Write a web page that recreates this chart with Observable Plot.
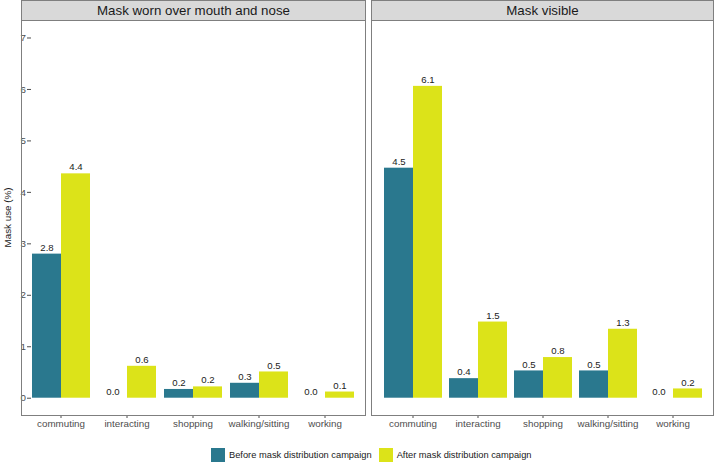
<!DOCTYPE html>
<html>
<head>
<meta charset="utf-8">
<script src="https://cdn.jsdelivr.net/npm/d3@7"></script>
<script src="https://cdn.jsdelivr.net/npm/@observablehq/plot@0.6"></script>
<style>
  html, body { margin: 0; padding: 0; background: #fff; }
  body { font-family: "Liberation Sans", Arial, sans-serif; }
  #root { position: relative; width: 716px; height: 463px; overflow: hidden; background: #fff; }
  .abs { position: absolute; }
  .strip { background: #D9D9D9; border: 1px solid #7F7F7F; box-sizing: border-box; color: #1A1A1A;
           font-size: 13.3px; display: flex; align-items: center; justify-content: center; }
  .frame { border: 1px solid #7F7F7F; box-sizing: border-box; pointer-events: none; }
  .ylab { font-size: 9.8px; color: #1A1A1A; transform: rotate(-90deg); transform-origin: center; white-space: nowrap; }
  .legend { display: flex; align-items: center; font-size: 9.3px; color: #1A1A1A; }
  .sw { width: 14px; height: 14px; margin-right: 4px; }
  .item { display: flex; align-items: center; margin-right: 7px; }
</style>
</head>
<body>
<div id="root"></div>
<script>
const panels = ["Mask worn over mouth and nose", "Mask visible"];
const categories = ["commuting", "interacting", "shopping", "walking/sitting", "working"];
const groups = ["Before mask distribution campaign", "After mask distribution campaign"];
const wornBefore = [2.80, 0.00, 0.17, 0.29, 0.00];
const wornAfter = [4.36, 0.62, 0.22, 0.51, 0.12];
const visibleBefore = [4.47, 0.38, 0.53, 0.53, 0.00];
const visibleAfter = [6.06, 1.48, 0.79, 1.34, 0.18];
const yTicks = [0, 1, 2, 3, 4, 5, 6, 7];
const colors = ["#2A788E", "#DCE319"];
const yLabel = "Mask use (%)";

const series = [[wornBefore, wornAfter], [visibleBefore, visibleAfter]];

const root = document.getElementById("root");

// panel geometry (page pixels)
const panelTop = 20, panelBottom = 415;
const panelBoxes = [{left: 21, right: 365}, {left: 371, right: 713}];
const yDomain = [-0.336, 7.34];

function makePanel(pi) {
  const data = [];
  categories.forEach((c, ci) => {
    groups.forEach((g, gi) => {
      data.push({category: c, group: g, value: series[pi][gi][ci]});
    });
  });
  const box = panelBoxes[pi];
  const showY = pi === 0;
  const mLeft = showY ? box.left : 0;
  const svgLeft = showY ? 0 : box.left;
  const width = box.right - svgLeft;
  const plot = Plot.plot({
    width: width,
    height: (panelBottom - panelTop) + 28,
    marginLeft: mLeft,
    marginRight: 0,
    marginTop: 0,
    marginBottom: 28,
    style: {fontFamily: "'Liberation Sans', Arial, sans-serif", fontSize: "9.8px", color: "#4D4D4D", background: "transparent", overflow: "visible"},
    fx: {domain: categories, paddingInner: 0.1, paddingOuter: 0.15, axis: "bottom", label: null, tickSize: 3, tickPadding: 2},
    x: {domain: groups, padding: 0, axis: null},
    y: {domain: yDomain, ticks: yTicks, axis: showY ? "left" : null, label: null, tickSize: 4, tickPadding: 1.5, tickFormat: d3.format("d")},
    color: {domain: groups, range: colors},
    facet: {data: data, x: "category"},
    marks: [
      Plot.barY(data, {x: "group", y1: 0, y2: "value", fill: "group"}),
      Plot.text(data, {x: "group", y: "value", text: d => d.value.toFixed(1), dy: -6.5, fill: "#222", fontSize: 9.6})
    ]
  });
  plot.style.position = "absolute";
  plot.style.left = svgLeft + "px";
  plot.style.top = panelTop + "px";
  root.appendChild(plot);

  const frame = document.createElement("div");
  frame.className = "abs frame";
  frame.style.left = box.left + "px";
  frame.style.top = panelTop + "px";
  frame.style.width = (box.right - box.left + 1) + "px";
  frame.style.height = (panelBottom - panelTop + 1) + "px";
  root.appendChild(frame);

  const strip = document.createElement("div");
  strip.className = "abs strip";
  strip.style.left = box.left + "px";
  strip.style.top = "0px";
  strip.style.width = (box.right - box.left + 1) + "px";
  strip.style.height = (panelTop + 1) + "px";
  strip.textContent = panels[pi];
  root.appendChild(strip);
}

makePanel(0);
makePanel(1);

const yl = document.createElement("div");
yl.className = "abs ylab";
yl.textContent = yLabel;
root.appendChild(yl);
yl.style.left = "0px";
yl.style.top = "0px";
const r = yl.getBoundingClientRect();
yl.style.left = (8 - r.width / 2 - (r.left)) + "px";
yl.style.top = (217.5 - r.height / 2 - (r.top)) + "px";

const legend = document.createElement("div");
legend.className = "abs legend";
legend.style.left = "211px";
legend.style.top = "448px";
groups.forEach((g, i) => {
  const item = document.createElement("div");
  item.className = "item";
  const sw = document.createElement("div");
  sw.className = "sw";
  sw.style.background = colors[i];
  const t = document.createElement("span");
  t.textContent = g;
  item.appendChild(sw);
  item.appendChild(t);
  legend.appendChild(item);
});
root.appendChild(legend);
</script>
</body>
</html>
